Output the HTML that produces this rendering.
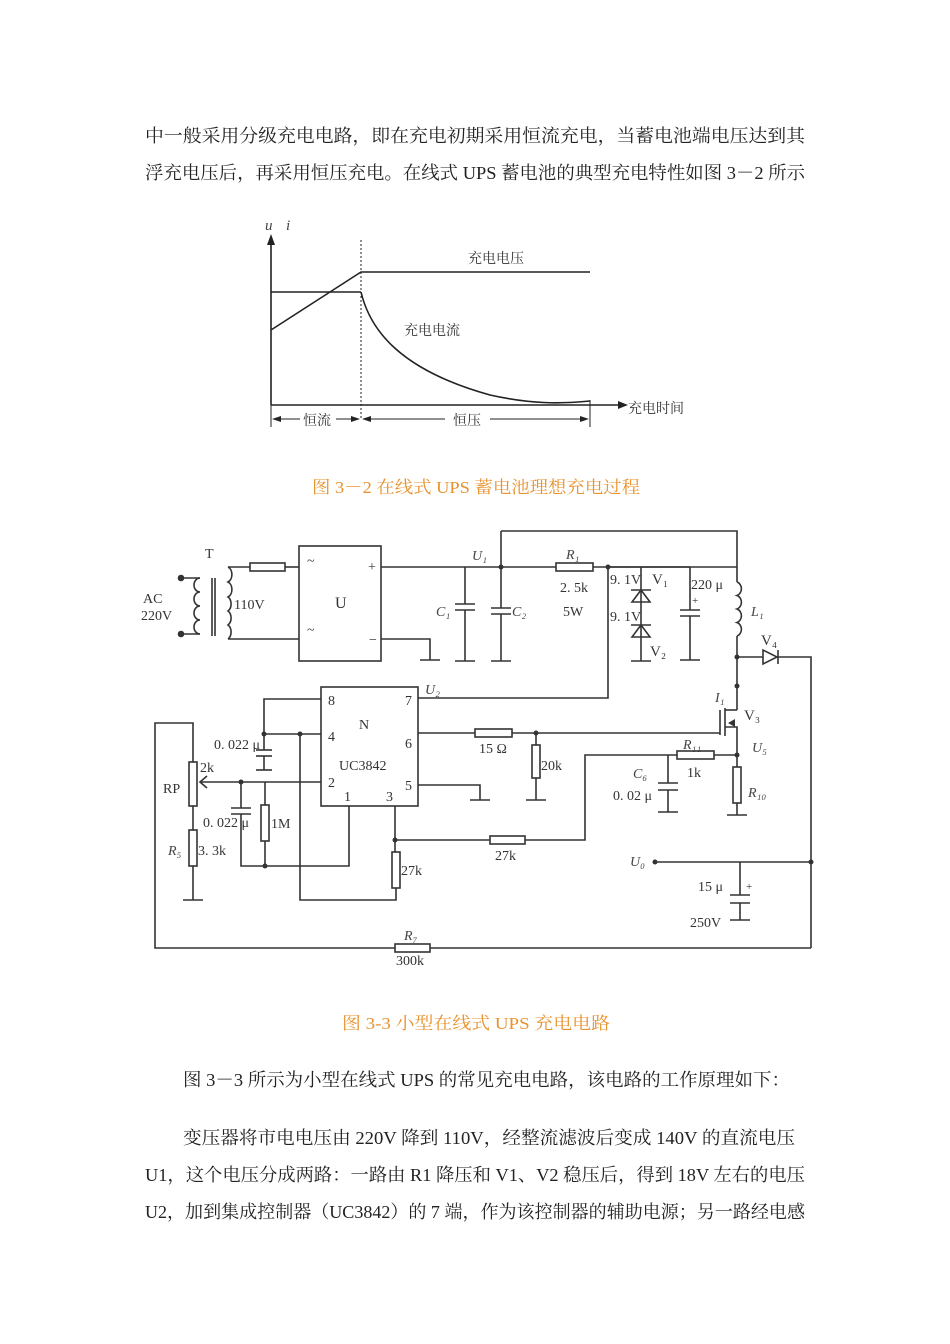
<!DOCTYPE html>
<html><head><meta charset="utf-8"><style>
html,body{margin:0;padding:0;background:#fff;}
svg{display:block;}
.p{font-family:"Liberation Serif","Noto Serif CJK SC",serif;font-size:18px;fill:#222;}
.cap{font-family:"Liberation Serif","Noto Serif CJK SC",serif;font-size:17px;fill:#e8922e;}
.t{font-family:"Liberation Serif","Noto Serif CJK SC",serif;font-size:14px;fill:#333;}
.ti{font-family:"Liberation Serif",serif;font-size:14px;fill:#444;font-style:italic;}
</style></head><body>
<svg width="950" height="1344" viewBox="0 0 950 1344" xmlns="http://www.w3.org/2000/svg">
<!-- paragraphs -->
<text class="p" x="145" y="142" textLength="660" lengthAdjust="spacingAndGlyphs">中一般采用分级充电电路，即在充电初期采用恒流充电，当蓄电池端电压达到其</text>
<text class="p" x="145" y="179" textLength="660" lengthAdjust="spacingAndGlyphs">浮充电压后，再采用恒压充电。在线式 UPS 蓄电池的典型充电特性如图 3－2 所示</text>

<!-- chart -->
<g stroke="#222" fill="none" stroke-width="1.6">
<line x1="271" y1="405" x2="271" y2="240"/>
<line x1="271" y1="405" x2="622" y2="405"/>
<polyline points="271,330 361,272 590,272"/>
<polyline points="271,292 361,292"/>
<path d="M361,292 C370,330 400,370 490,395 C530,404 560,404 590,401"/>
<line x1="361" y1="240" x2="361" y2="420" stroke-dasharray="2,2" stroke-width="1"/>
<line x1="271" y1="405" x2="271" y2="427" stroke-width="1"/>
<line x1="590" y1="400" x2="590" y2="427" stroke-width="1"/>
<line x1="275" y1="419" x2="300" y2="419" stroke-width="1"/>
<line x1="336" y1="419" x2="357" y2="419" stroke-width="1"/>
<line x1="365" y1="419" x2="445" y2="419" stroke-width="1"/>
<line x1="490" y1="419" x2="586" y2="419" stroke-width="1"/>
</g>
<g fill="#222">
<polygon points="271,234 267,245 275,245"/>
<polygon points="628,405 618,401 618,409"/>
<polygon points="272,419 281,416 281,422"/>
<polygon points="360,419 351,416 351,422"/>
<polygon points="362,419 371,416 371,422"/>
<polygon points="589,419 580,416 580,422"/>
</g>
<text class="ti" x="265" y="230" style="font-size:15px">u</text><text class="ti" x="286" y="230" style="font-size:15px">i</text>
<text class="t" x="468" y="263">充电电压</text>
<text class="t" x="404" y="335">充电电流</text>
<text class="t" x="628" y="413">充电时间</text>
<text class="t" x="303" y="425">恒流</text>
<text class="t" x="453" y="425">恒压</text>

<text class="cap" x="312" y="493" textLength="328" lengthAdjust="spacingAndGlyphs">图 3－2 在线式 UPS 蓄电池理想充电过程</text>

<!-- circuit -->
<g stroke="#333" fill="none" stroke-width="1.6">
<!-- transformer -->
<circle cx="181" cy="578" r="2.5" fill="#333"/><circle cx="181" cy="634" r="2.5" fill="#333"/>
<line x1="183" y1="578" x2="200" y2="578"/><line x1="183" y1="634" x2="200" y2="634"/>
<path d="M200,578 a6,7 0 0 0 0,14 a6,7 0 0 0 0,14 a6,7 0 0 0 0,14 a6,7 0 0 0 0,14"/>
<line x1="212" y1="578" x2="212" y2="636"/><line x1="215" y1="578" x2="215" y2="636"/>
<path d="M228,567 a6,8 0 0 1 0,15 a6,8 0 0 1 0,15 a6,8 0 0 1 0,14 a6,8 0 0 1 0,14 a6,8 0 0 1 0,14"/>
<line x1="228" y1="567" x2="250" y2="567"/><rect x="250" y="563" width="35" height="8"/><line x1="285" y1="567" x2="299" y2="567"/>
<line x1="228" y1="639" x2="299" y2="639"/>
<rect x="299" y="546" width="82" height="115"/>
<line x1="381" y1="567" x2="737" y2="567" />
<polyline points="381,639 430,639 430,660"/><line x1="420" y1="660" x2="440" y2="660"/>
<!-- C1 -->
<line x1="465" y1="567" x2="465" y2="604"/><line x1="455" y1="604" x2="475" y2="604"/><line x1="455" y1="610" x2="475" y2="610"/><line x1="465" y1="610" x2="465" y2="661"/><line x1="455" y1="661" x2="475" y2="661"/>
<!-- C2 -->
<line x1="501" y1="531" x2="501" y2="608"/><line x1="491" y1="608" x2="511" y2="608"/><line x1="491" y1="614" x2="511" y2="614"/><line x1="501" y1="614" x2="501" y2="661"/><line x1="491" y1="661" x2="511" y2="661"/>
<polyline points="501,531 737,531 737,582"/>
<!-- R1 -->
<rect x="556" y="563" width="37" height="8" fill="#fff"/>
<polyline points="608,567 608,698 418,698"/>
<line x1="608" y1="567" x2="690" y2="567"/>
<!-- zeners -->
<line x1="641" y1="567" x2="641" y2="661"/><line x1="631" y1="661" x2="651" y2="661"/>
<polygon points="641,590 632,602 650,602"/><line x1="631" y1="590" x2="651" y2="590"/>
<polygon points="641,625 632,637 650,637"/><line x1="631" y1="625" x2="651" y2="625"/>
<!-- 220u -->
<line x1="690" y1="567" x2="690" y2="610"/><line x1="680" y1="610" x2="700" y2="610"/><line x1="680" y1="616" x2="700" y2="616"/><line x1="690" y1="616" x2="690" y2="660"/><line x1="680" y1="660" x2="700" y2="660"/>
<!-- L1 -->
<path d="M737,582 a6,7 0 0 1 0,13.5 a6,7 0 0 1 0,13.5 a6,7 0 0 1 0,13.5 a6,7 0 0 1 0,13.5"/>
<line x1="737" y1="636" x2="737" y2="710"/>
<!-- V4 -->
<line x1="737" y1="657" x2="763" y2="657"/><polygon points="763,650 763,664 777,657"/><line x1="778" y1="650" x2="778" y2="664"/>
<polyline points="778,657 811,657 811,948"/>
<!-- MOSFET -->
<line x1="720" y1="710" x2="720" y2="735"/>
<line x1="725" y1="708" x2="725" y2="736"/>
<polyline points="725,710 737,710"/><polyline points="725,727 737,727 737,767"/>
<polyline points="418,733 475,733"/><rect x="475" y="729" width="37" height="8"/><polyline points="512,733 720,733"/>
<!-- 20k -->
<line x1="536" y1="733" x2="536" y2="745"/><rect x="532" y="745" width="8" height="33"/><line x1="536" y1="778" x2="536" y2="800"/><line x1="526" y1="800" x2="546" y2="800"/>
<!-- R11 -->
<polyline points="737,755 714,755"/><rect x="677" y="751" width="37" height="8"/><polyline points="677,755 585,755 585,840 525,840"/>
<rect x="490" y="836" width="35" height="8"/><line x1="490" y1="840" x2="395" y2="840"/>
<!-- C6 -->
<line x1="668" y1="755" x2="668" y2="783"/><line x1="658" y1="783" x2="678" y2="783"/><line x1="658" y1="790" x2="678" y2="790"/><line x1="668" y1="790" x2="668" y2="812"/><line x1="658" y1="812" x2="678" y2="812"/>
<!-- R10 -->
<rect x="733" y="767" width="8" height="36"/><line x1="737" y1="803" x2="737" y2="815"/><line x1="727" y1="815" x2="747" y2="815"/>
<!-- Uo -->
<line x1="655" y1="862" x2="811" y2="862"/>
<line x1="740" y1="862" x2="740" y2="895"/><line x1="730" y1="895" x2="750" y2="895"/><line x1="730" y1="903" x2="750" y2="903"/><line x1="740" y1="903" x2="740" y2="920"/><line x1="730" y1="920" x2="750" y2="920"/>
<!-- bottom R7 loop -->
<polyline points="395,948 155,948 155,723 193,723 193,762"/><rect x="395" y="944" width="35" height="8"/><line x1="430" y1="948" x2="811" y2="948"/>
<!-- IC -->
<rect x="321" y="687" width="97" height="119"/>
<polyline points="321,699 264,699 264,750"/><line x1="256" y1="750" x2="272" y2="750"/><line x1="256" y1="756" x2="272" y2="756"/><line x1="264" y1="756" x2="264" y2="770"/><line x1="256" y1="770" x2="272" y2="770"/>
<line x1="264" y1="734" x2="321" y2="734"/>
<polyline points="300,734 300,900 396,900 396,888"/>
<rect x="392" y="852" width="8" height="36"/><polyline points="395,806 395,852"/>
<line x1="321" y1="782" x2="200" y2="782"/>
<polyline points="207,776 200,782 207,788"/>
<line x1="241" y1="782" x2="241" y2="808"/><line x1="231" y1="808" x2="251" y2="808"/><line x1="231" y1="814" x2="251" y2="814"/><polyline points="241,814 241,866 349,866 349,806"/>
<line x1="265" y1="782" x2="265" y2="805"/><rect x="261" y="805" width="8" height="36"/><line x1="265" y1="841" x2="265" y2="866"/>
<polyline points="395,806 395,806"/>
<polyline points="418,785 480,785 480,800"/><line x1="470" y1="800" x2="490" y2="800"/>
<rect x="189" y="762" width="8" height="44"/><line x1="193" y1="806" x2="193" y2="830"/><rect x="189" y="830" width="8" height="36"/><line x1="193" y1="866" x2="193" y2="900"/><line x1="183" y1="900" x2="203" y2="900"/>
</g>
<g fill="#333">
<circle cx="501" cy="567" r="2.5"/><circle cx="608" cy="567" r="2.5"/><circle cx="737" cy="657" r="2.5"/><circle cx="737" cy="686" r="2.5"/>
<circle cx="737" cy="755" r="2.5"/><circle cx="536" cy="733" r="2.5"/><circle cx="395" cy="840" r="2.5"/>
<circle cx="264" cy="734" r="2.5"/><circle cx="300" cy="734" r="2.5"/><circle cx="241" cy="782" r="2.5"/><circle cx="265" cy="866" r="2.5"/>
<circle cx="655" cy="862" r="2.5"/><circle cx="811" cy="862" r="2.5"/>
<polygon points="728,723 735,719 735,727"/>
</g>
<g class="t">
<text x="205" y="558">T</text><text x="143" y="603">AC</text><text x="141" y="620">220V</text><text x="234" y="609">110V</text>
<text x="307" y="565">~</text><text x="307" y="634">~</text><text x="368" y="571">+</text><text x="369" y="644">−</text>
<text x="335" y="608" style="font-size:16px">U</text>
<text class="ti" x="472" y="560">U₁</text><text class="ti" x="436" y="616">C₁</text><text class="ti" x="512" y="616">C₂</text>
<text class="ti" x="566" y="559">R₁</text><text x="560" y="592">2. 5k</text><text x="563" y="616">5W</text>
<text x="610" y="584">9. 1V</text><text x="610" y="621">9. 1V</text><text x="652" y="584" style="font-size:15px">V₁</text><text x="650" y="656" style="font-size:15px">V₂</text>
<text x="691" y="589">220 μ</text><text x="692" y="604" style="font-size:11px">+</text><text class="ti" x="751" y="616">L₁</text>
<text x="761" y="645" style="font-size:15px">V₄</text><text class="ti" x="715" y="702">I₁</text><text x="744" y="720" style="font-size:15px">V₃</text>
<text class="ti" x="752" y="752">U₅</text><text class="ti" x="683" y="749">R₁₁</text><text x="687" y="777">1k</text>
<text class="ti" x="633" y="778">C₆</text><text x="613" y="800">0. 02 μ</text><text class="ti" x="748" y="797">R₁₀</text>
<text x="479" y="753">15 Ω</text><text x="541" y="770">20k</text>
<text class="ti" x="425" y="694">U₂</text>
<text x="328" y="705">8</text><text x="405" y="705">7</text><text x="328" y="741">4</text><text x="405" y="748">6</text><text x="328" y="787">2</text><text x="405" y="790">5</text><text x="344" y="801">1</text><text x="386" y="801">3</text>
<text x="359" y="729">N</text><text x="339" y="770">UC3842</text>
<text x="214" y="749">0. 022 μ</text><text x="203" y="827">0. 022 μ</text><text x="271" y="828">1M</text>
<text x="163" y="793">RP</text><text x="200" y="772">2k</text><text class="ti" x="168" y="855">R₅</text><text x="198" y="855">3. 3k</text>
<text x="401" y="875">27k</text><text x="495" y="860">27k</text>
<text class="ti" x="630" y="866">U₀</text><text x="698" y="891">15 μ</text><text x="746" y="890" style="font-size:11px">+</text><text x="690" y="927">250V</text>
<text class="ti" x="404" y="940">R₇</text><text x="396" y="965">300k</text>
</g>

<text class="cap" x="342" y="1029" textLength="268" lengthAdjust="spacingAndGlyphs">图 3-3  小型在线式 UPS 充电电路</text>

<text class="p" x="183" y="1086" textLength="607" lengthAdjust="spacingAndGlyphs">图 3－3 所示为小型在线式 UPS 的常见充电电路，该电路的工作原理如下：</text>
<text class="p" x="183" y="1144" textLength="612" lengthAdjust="spacingAndGlyphs">变压器将市电电压由 220V 降到 110V，经整流滤波后变成 140V 的直流电压</text>
<text class="p" x="145" y="1181" textLength="660" lengthAdjust="spacingAndGlyphs">U1，这个电压分成两路：一路由 R1 降压和 V1、V2 稳压后，得到 18V 左右的电压</text>
<text class="p" x="145" y="1218" textLength="660" lengthAdjust="spacingAndGlyphs">U2，加到集成控制器（UC3842）的 7 端，作为该控制器的辅助电源；另一路经电感</text>
</svg>
</body></html>
